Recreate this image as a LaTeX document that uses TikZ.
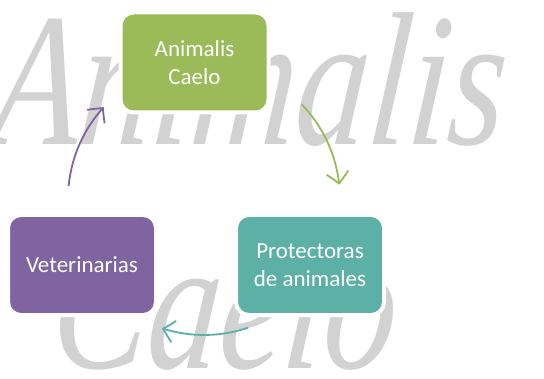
\documentclass[tikz,border=0pt]{standalone}
\usepackage{fontspec}
\setmainfont{Carlito}
\newfontfamily\wmfont{Liberation Serif}
\usetikzlibrary{arrows.meta,bending,calc}
\definecolor{cgreen}{HTML}{9BBB59}
\definecolor{cpurple}{HTML}{8064A2}
\definecolor{cteal}{HTML}{5DB0A5}
\definecolor{wmgray}{HTML}{D2D2D2}
\tikzset{
  box/.style={rectangle, rounded corners=13pt, draw=white, line width=4pt,
    minimum width=148pt, minimum height=100pt, text=white, align=center,
    font=\fontsize{23}{28}\selectfont, inner sep=0pt},
  wm/.style={text=wmgray, inner sep=0pt, font=\wmfont\itshape\fontsize{190}{190}\selectfont, xscale=0.76, xslant=0.12},
  arr/.style={line width=1.8pt, -{Straight Barb[length=11pt,width=22pt,line width=1.8pt,bend]}},
}
\begin{document}
\begin{tikzpicture}[x=1pt,y=1pt]
\useasboundingbox (0,0) rectangle (544,378);
\clip (0,0) rectangle (544,378);
\fill[white] (0,0) rectangle (544,378);
% watermark
\node[wm, anchor=base west] (wm1) at (-12,233) {Animalis};
\node[wm, anchor=base west] (wm2) at (48,10) {Caelo};
% boxes
\node[box, fill=cgreen] (ac) at (194.5,315.5) {Animalis\\Caelo};
\node[box, fill=cteal] (pa) at (310,113) {Protectoras\\de animales};
\node[box, fill=cpurple] (vt) at (82,113) {Veterinarias};
% arrows (arcs round the cycle centre)
\coordinate (c) at (204,179);
\coordinate (g1) at ($(c)+(44:136pt)$);
\coordinate (t1) at ($(c)+(-71:136pt)$);
\coordinate (p1) at ($(c)+(174.5:136pt)$);
\draw[arr, cgreen] (g1) arc[start angle=44, end angle=6, radius=136pt];
\draw[arr, cteal] (t1) arc[start angle=-71, end angle=-108, radius=136pt];
\draw[arr, cpurple] (p1) arc[start angle=174.5, end angle=137.5, radius=136pt];
\end{tikzpicture}
\end{document}
